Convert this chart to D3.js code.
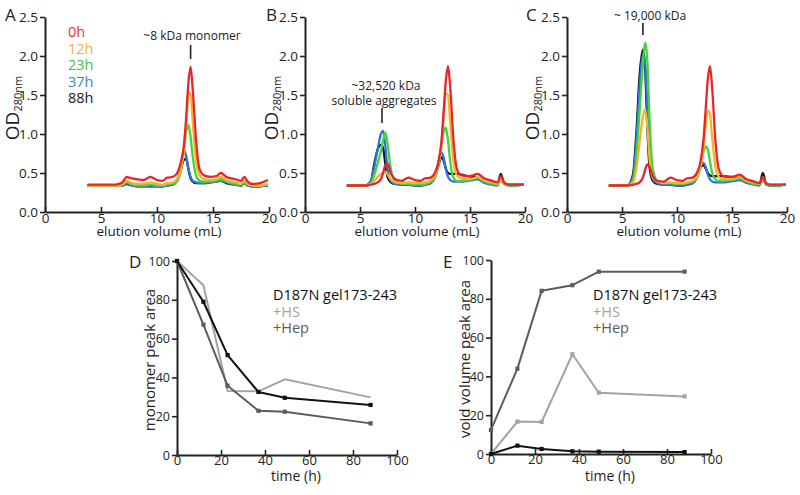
<!DOCTYPE html>
<html><head><meta charset="utf-8">
<script src="https://cdn.jsdelivr.net/npm/d3@7"></script>
<style>
body{margin:0;background:#fff;}
svg{display:block;font-family:"Open Sans","Noto Sans",sans-serif;}
</style></head>
<body><svg id="c" width="800" height="495"></svg>
<script>
// ---------- DATA ----------
const volume = [3.8,5.5,6.0,6.3,6.6,6.9,7.1,7.3,7.5,7.8,8.2,8.8,9.4,10.0,10.5,10.9,11.4,11.8,12.1,12.4,12.6,12.8,13.0,13.2,13.5,13.8,14.2,14.8,15.3,15.7,16.2,17.0,17.5,17.8,18.1,18.5,19.2,19.9];
const timeLabels = ["0h","12h","23h","37h","88h"];
const odTicks = [0,0.5,1.0,1.5,2.0,2.5];
const volTicks = [0,5,10,15,20];

// Panel A
const A_0h  = [0.35,0.35,0.35,0.35,0.36,0.38,0.42,0.45,0.44,0.43,0.42,0.41,0.45,0.41,0.40,0.44,0.45,0.50,0.62,0.85,1.20,1.65,1.86,1.55,0.90,0.55,0.47,0.45,0.46,0.50,0.45,0.42,0.40,0.45,0.39,0.36,0.37,0.41];
const A_12h = [0.34,0.34,0.34,0.34,0.34,0.35,0.38,0.40,0.39,0.37,0.36,0.36,0.38,0.36,0.35,0.37,0.38,0.43,0.53,0.78,1.10,1.50,1.53,1.15,0.65,0.47,0.42,0.41,0.42,0.45,0.41,0.38,0.36,0.40,0.36,0.34,0.34,0.36];
const A_23h = [0.34,0.34,0.34,0.34,0.34,0.35,0.37,0.39,0.37,0.35,0.34,0.34,0.35,0.34,0.34,0.35,0.36,0.40,0.52,0.80,1.02,1.12,0.96,0.70,0.46,0.40,0.39,0.39,0.40,0.42,0.39,0.36,0.35,0.38,0.35,0.34,0.34,0.35];
const A_37h = [0.34,0.34,0.34,0.34,0.34,0.34,0.35,0.37,0.35,0.34,0.33,0.33,0.34,0.33,0.33,0.34,0.36,0.42,0.58,0.79,0.72,0.56,0.45,0.40,0.38,0.37,0.37,0.38,0.39,0.40,0.38,0.35,0.34,0.38,0.34,0.33,0.33,0.34];
const A_88h = [0.34,0.34,0.34,0.34,0.34,0.34,0.35,0.36,0.35,0.34,0.33,0.33,0.33,0.33,0.33,0.34,0.35,0.40,0.52,0.67,0.68,0.55,0.43,0.39,0.37,0.37,0.37,0.38,0.39,0.40,0.37,0.35,0.34,0.37,0.34,0.33,0.33,0.34];
// Panel B
const B_0h  = [0.34,0.34,0.35,0.36,0.38,0.42,0.50,0.60,0.62,0.50,0.42,0.40,0.44,0.41,0.40,0.43,0.44,0.50,0.62,0.90,1.28,1.68,1.87,1.60,0.92,0.56,0.47,0.46,0.47,0.49,0.44,0.40,0.38,0.46,0.38,0.35,0.35,0.35];
const B_12h = [0.34,0.34,0.36,0.40,0.45,0.49,0.51,0.52,0.48,0.42,0.38,0.37,0.38,0.37,0.37,0.38,0.40,0.46,0.58,0.85,1.20,1.52,1.50,1.15,0.65,0.47,0.43,0.42,0.43,0.45,0.41,0.38,0.36,0.42,0.37,0.35,0.35,0.35];
const B_23h = [0.34,0.34,0.37,0.48,0.62,0.78,0.92,1.02,0.88,0.55,0.40,0.36,0.36,0.35,0.35,0.36,0.38,0.44,0.58,0.85,1.02,1.08,0.92,0.65,0.44,0.40,0.40,0.41,0.42,0.44,0.40,0.36,0.35,0.40,0.36,0.34,0.34,0.35];
const B_37h = [0.34,0.34,0.40,0.58,0.80,1.00,1.04,0.85,0.55,0.40,0.36,0.35,0.35,0.34,0.34,0.35,0.37,0.45,0.62,0.76,0.70,0.55,0.45,0.41,0.39,0.39,0.39,0.40,0.41,0.42,0.38,0.35,0.34,0.43,0.36,0.34,0.34,0.35];
const B_88h = [0.34,0.34,0.40,0.62,0.80,0.86,0.82,0.62,0.45,0.38,0.36,0.35,0.35,0.34,0.34,0.35,0.37,0.44,0.58,0.70,0.66,0.56,0.50,0.49,0.49,0.49,0.48,0.46,0.45,0.44,0.40,0.36,0.35,0.49,0.37,0.35,0.35,0.35];
// Panel C
const C_0h  = [0.34,0.34,0.35,0.36,0.38,0.44,0.54,0.61,0.58,0.46,0.40,0.39,0.44,0.41,0.40,0.43,0.44,0.50,0.62,0.92,1.30,1.70,1.87,1.58,0.90,0.55,0.46,0.45,0.46,0.48,0.43,0.39,0.37,0.45,0.37,0.35,0.35,0.35];
const C_12h = [0.34,0.34,0.38,0.55,0.90,1.22,1.32,1.10,0.70,0.45,0.39,0.37,0.38,0.37,0.37,0.38,0.40,0.45,0.56,0.80,1.08,1.30,1.25,0.95,0.58,0.45,0.42,0.42,0.43,0.45,0.41,0.38,0.36,0.42,0.37,0.35,0.35,0.35];
const C_23h = [0.34,0.34,0.40,0.70,1.30,1.90,2.17,1.95,1.20,0.55,0.40,0.37,0.37,0.36,0.36,0.37,0.39,0.44,0.56,0.76,0.84,0.80,0.65,0.50,0.42,0.40,0.40,0.41,0.42,0.43,0.40,0.36,0.35,0.40,0.36,0.34,0.34,0.35];
const C_37h = [0.34,0.34,0.45,0.90,1.60,2.00,1.90,1.30,0.70,0.42,0.37,0.35,0.35,0.34,0.34,0.35,0.37,0.44,0.58,0.63,0.58,0.48,0.42,0.39,0.38,0.38,0.38,0.39,0.40,0.41,0.38,0.35,0.34,0.45,0.35,0.34,0.34,0.35];
const C_88h = [0.34,0.34,0.48,1.00,1.75,2.08,1.85,1.10,0.58,0.40,0.36,0.35,0.35,0.34,0.34,0.35,0.37,0.44,0.56,0.60,0.56,0.50,0.47,0.46,0.46,0.46,0.46,0.45,0.44,0.43,0.39,0.36,0.35,0.50,0.36,0.34,0.34,0.35];

// Panels D and E
const times = [0,12,23,37,49,88];
const pctTicks = [0,20,40,60,80,100];
const monoD187N = [100,79,51.5,32.5,29.5,25.8];
const monoHS    = [100,87.5,33,32.8,39,29.7];
const monoHep   = [100,67.2,35.7,22.8,22.3,16.3];
const voidD187N = [0,4.3,2.6,1.4,1.2,1.0];
const voidHS    = [0,16.7,16.5,51.4,31.6,29.7];
const voidHep   = [12.4,44,84.1,87,94,94];
const legendLabels = ["D187N gel173-243","+HS","+Hep"];

// ---------- STYLE ----------
const hourColors = ["#e8252b","#f6b325","#3fd43f","#2f72d8","#0d1626"];
const textColors = ["#e83238","#f0b236","#44c444","#3b82dc","#222"];
const grpColors = {d187n:"#111111", hs:"#a3a3a3", hep:"#5c5c5c"};
const axisColor = "#222";

const svg = d3.select("#c");

function styleAxis(g, fs){
  g.selectAll("path.domain").attr("stroke",axisColor).attr("stroke-width",2);
  g.selectAll(".tick line").attr("stroke",axisColor).attr("stroke-width",1.6);
  g.selectAll(".tick text").attr("fill","#222").style("font-size",fs).style("font-family",'"Open Sans",sans-serif');
}

function chromPanel(opt){
  const x = d3.scaleLinear().domain([0,20]).range([opt.x0,opt.x1]);
  const y = d3.scaleLinear().domain([0,2.5]).range([212,17]);
  const g = svg.append("g");
  const ya = g.append("g").attr("transform",`translate(${opt.x0},0)`)
    .call(d3.axisLeft(y).tickValues(odTicks).tickFormat(d3.format(".1f")).tickSize(5).tickSizeOuter(0).tickPadding(2));
  styleAxis(ya,"13.5px");
  const xa = g.append("g").attr("transform","translate(0,212)")
    .call(d3.axisBottom(x).tickValues(volTicks).tickSize(-5).tickSizeOuter(0).tickPadding(3));
  styleAxis(xa,"13.5px");
  xa.selectAll(".tick text").attr("dy","0.71em").attr("y",1);
  const line = d3.line().x((d,i)=>x(volume[i])).y(d=>y(d)).curve(d3.curveMonotoneX);
  for(let k=opt.series.length-1;k>=0;k--){
    g.append("path").datum(opt.series[k]).attr("d",line)
      .attr("fill","none").attr("stroke",hourColors[k]).attr("stroke-width",2.3)
      .attr("stroke-linejoin","round");
  }
  const yl = g.append("text").attr("transform",`translate(${opt.ylx},108) rotate(-90)`)
    .attr("text-anchor","middle").attr("fill","#222");
  yl.append("tspan").text("OD").style("font-size","19px");
  yl.append("tspan").text("280nm").style("font-size","11px").attr("dy","3");
  g.append("text").attr("x",(opt.x0+opt.x1)/2+2).attr("y",236).attr("text-anchor","middle")
    .attr("fill","#222").style("font-size","13.5px").text("elution volume (mL)");
  g.append("text").attr("x",opt.lx).attr("y",21).attr("fill","#222").style("font-size","17px").text(opt.letter);
  return {g,x,y};
}

const pA = chromPanel({x0:45,x1:269,ylx:19,lx:5,letter:"A",series:[A_0h,A_12h,A_23h,A_37h,A_88h]});
const pB = chromPanel({x0:305,x1:525,ylx:278,lx:266,letter:"B",series:[B_0h,B_12h,B_23h,B_37h,B_88h]});
const pC = chromPanel({x0:567,x1:787,ylx:539,lx:526,letter:"C",series:[C_0h,C_12h,C_23h,C_37h,C_88h]});

timeLabels.forEach((t,i)=>{
  pA.g.append("text").attr("x",68).attr("y",37+i*16.5).attr("fill",textColors[i])
    .style("font-size","14.5px").text(t);
});

function note(p,x,y,s){
  p.g.append("text").attr("x",x).attr("y",y).attr("text-anchor","middle")
    .attr("fill","#222").style("font-size","12px").text(s);
}
function mark(p,v,y0,y1){
  p.g.append("line").attr("x1",p.x(v)).attr("x2",p.x(v)).attr("y1",y0).attr("y2",y1)
    .attr("stroke","#222").attr("stroke-width",1.6);
}
note(pA,192,40,"~8 kDa monomer"); mark(pA,13.0,45,59);
note(pB,386,90,"~32,520 kDa"); note(pB,384,105,"soluble aggregates"); mark(pB,7.0,108,123);
note(pC,650,20,"~ 19,000 kDa"); mark(pC,6.9,23,35);

// ---------- D and E ----------
function kinPanel(opt){
  const x = d3.scaleLinear().domain([0,100]).range([opt.x0,opt.x1]);
  const y = d3.scaleLinear().domain([0,100]).range([opt.y0,opt.y1]);
  const g = svg.append("g");
  const ya = g.append("g").attr("transform",`translate(${opt.x0},0)`)
    .call(d3.axisLeft(y).tickValues(pctTicks).tickSize(5).tickSizeOuter(0).tickPadding(2));
  styleAxis(ya,"12.5px");
  const xa = g.append("g").attr("transform",`translate(0,${opt.y0})`)
    .call(d3.axisBottom(x).tickValues(pctTicks).tickSize(-5).tickSizeOuter(0).tickPadding(3));
  styleAxis(xa,"13px");
  xa.selectAll(".tick text").attr("dy","0.71em").attr("y",1);
  const line = d3.line().x((d,i)=>x(times[i])).y(d=>y(d));
  opt.series.forEach(s=>{
    g.append("path").datum(s.v).attr("d",line).attr("fill","none")
      .attr("stroke",s.c).attr("stroke-width",2).attr("stroke-linejoin","round");
    if(s.m){
      g.selectAll(null).data(s.v).enter().append("rect")
        .attr("x",(d,i)=>x(times[i])-2.1).attr("y",d=>y(d)-2.1)
        .attr("width",4.2).attr("height",4.2).attr("fill",s.c);
    }
  });
  g.append("text").attr("transform",`translate(${opt.ylx},${(opt.y0+opt.y1)/2+2}) rotate(-90)`)
    .attr("text-anchor","middle").attr("fill","#222").style("font-size","15px").text(opt.ylabel);
  g.append("text").attr("x",(opt.x0+opt.x1)/2+9).attr("y",481).attr("text-anchor","middle")
    .attr("fill","#222").style("font-size","14px").text("time (h)");
  g.append("text").attr("x",opt.lx).attr("y",268).attr("fill","#222").style("font-size","17px").text(opt.letter);
  const lc = [grpColors.d187n, grpColors.hs, grpColors.hep];
  legendLabels.forEach((t,i)=>{
    g.append("text").attr("x",opt.legx).attr("y",300+i*16.7).attr("fill",lc[i])
      .style("font-size","14.5px").text(t);
  });
  return g;
}

kinPanel({x0:177,x1:397,y0:455,y1:261,ylx:155,lx:129,letter:"D",legx:273,
  ylabel:"monomer peak area",
  series:[{v:monoHS,c:grpColors.hs,m:false},{v:monoHep,c:grpColors.hep,m:true},{v:monoD187N,c:grpColors.d187n,m:true}]});
kinPanel({x0:491,x1:711,y0:454,y1:260,ylx:470,lx:443,letter:"E",legx:593,
  ylabel:"void volume peak area",
  series:[{v:voidHS,c:grpColors.hs,m:true},{v:voidHep,c:grpColors.hep,m:true},{v:voidD187N,c:grpColors.d187n,m:true}]});
</script>
</body></html>
